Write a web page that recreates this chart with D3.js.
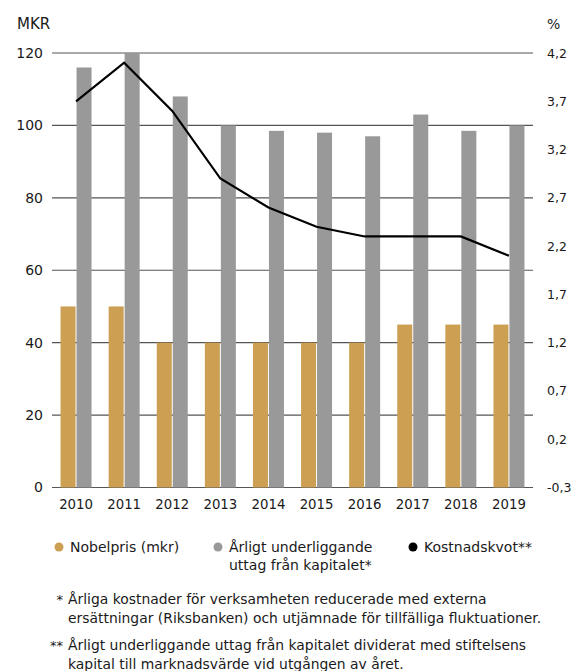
<!DOCTYPE html>
<html>
<head>
<meta charset="utf-8">
<script src="https://cdn.jsdelivr.net/npm/d3@7"></script>
<style>
  body { margin: 0; background: #fff; }
  svg text { font-family: "DejaVu Sans", sans-serif; fill: #1a1a1a; }
</style>
</head>
<body>
<script>
const years = ["2010", "2011", "2012", "2013", "2014", "2015", "2016", "2017", "2018", "2019"];
const nobelpris = [50, 50, 40, 40, 40, 40, 40, 45, 45, 45];
const uttag = [116, 120, 108, 100, 98.5, 98, 97, 103, 98.5, 100];
const kostnadskvot = [3.7, 4.1, 3.6, 2.9, 2.6, 2.4, 2.3, 2.3, 2.3, 2.1];
const leftTicks = [0, 20, 40, 60, 80, 100, 120];
const rightTicks = [-0.3, 0.2, 0.7, 1.2, 1.7, 2.2, 2.7, 3.2, 3.7, 4.2];

const W = 581;
const H = 671;
const Lpad = 52;
const Rpad = 48;
const Tpad = 53;
const plotBottom = 487.5;

const gold = "#cc9f52";
const grey = "#999999";

const svg = d3.select("body")
  .append("svg")
  .attr("width", W)
  .attr("height", H);

const xScale = d3.scaleBand()
  .domain(years)
  .range([Lpad, W - Rpad]);

const yLeft = d3.scaleLinear()
  .domain([0, 120])
  .range([plotBottom, Tpad]);

const yRight = d3.scaleLinear()
  .domain([-0.3, 4.2])
  .range([plotBottom, Tpad]);

// gridlines
svg.append("g")
  .selectAll("line")
  .data(leftTicks)
  .enter()
  .append("line")
  .attr("x1", Lpad)
  .attr("x2", W - Rpad)
  .attr("y1", d => yLeft(d))
  .attr("y2", d => yLeft(d))
  .attr("stroke", "#555")
  .attr("stroke-width", 1.2);

// left axis
const leftAxis = d3.axisLeft(yLeft).tickValues(leftTicks).tickSize(0).tickPadding(9);
svg.append("g")
  .attr("transform", `translate(${Lpad},0)`)
  .call(leftAxis)
  .call(g => g.select(".domain").remove())
  .selectAll("text")
  .style("font-size", "14px");

// right axis
const rightAxis = d3.axisRight(yRight)
  .tickValues(rightTicks)
  .tickSize(0)
  .tickPadding(14)
  .tickFormat(d => d3.format(".1f")(d).replace(".", ",").replace("−", "-"));
svg.append("g")
  .attr("transform", `translate(${W - Rpad},0)`)
  .call(rightAxis)
  .call(g => g.select(".domain").remove())
  .selectAll("text")
  .style("font-size", "12.5px");

// x axis
const xAxis = d3.axisBottom(xScale).tickSize(0).tickPadding(12);
svg.append("g")
  .attr("transform", `translate(0,${plotBottom})`)
  .call(xAxis)
  .call(g => g.select(".domain").remove())
  .selectAll("text")
  .style("font-size", "13.3px");

const barW = 15;

svg.append("g")
  .selectAll("rect")
  .data(years)
  .enter()
  .append("rect")
  .attr("x", (d) => xScale(d) + xScale.bandwidth() / 2 - barW - 0.5)
  .attr("y", (d, i) => yLeft(nobelpris[i]))
  .attr("width", barW)
  .attr("height", (d, i) => yLeft(0) - yLeft(nobelpris[i]))
  .attr("fill", gold);

svg.append("g")
  .selectAll("rect")
  .data(years)
  .enter()
  .append("rect")
  .attr("x", (d) => xScale(d) + xScale.bandwidth() / 2 + 0.5)
  .attr("y", (d, i) => yLeft(uttag[i]))
  .attr("width", barW)
  .attr("height", (d, i) => yLeft(0) - yLeft(uttag[i]))
  .attr("fill", grey);

const line = d3.line()
  .x((d, i) => xScale(years[i]) + xScale.bandwidth() / 2)
  .y(d => yRight(d));

svg.append("path")
  .datum(kostnadskvot)
  .attr("d", line)
  .attr("fill", "none")
  .attr("stroke", "#000")
  .attr("stroke-width", 2.2);

// axis titles
svg.append("text")
  .text("MKR")
  .attr("x", 17)
  .attr("y", 29)
  .style("font-size", "15px");

svg.append("text")
  .text("%")
  .attr("x", 547)
  .attr("y", 29)
  .style("font-size", "14px");

// legend
const legend = svg.append("g");
const legendItems = [
  { x: 59, color: gold, lines: ["Nobelpris (mkr)"] },
  { x: 218, color: grey, lines: ["Årligt underliggande", "uttag från kapitalet*"] },
  { x: 413, color: "#000", lines: ["Kostnadskvot**"] }
];
legendItems.forEach(item => {
  legend.append("circle")
    .attr("cx", item.x)
    .attr("cy", 547)
    .attr("r", 4.5)
    .attr("fill", item.color);
  item.lines.forEach((t, j) => {
    legend.append("text")
      .text(t)
      .attr("x", item.x + 11)
      .attr("y", 552 + j * 18)
      .style("font-size", "14px");
  });
});

// footnotes
const notes = [
  { mark: "*", y: 604, lines: ["Årliga kostnader för verksamheten reducerade med externa", "ersättningar (Riksbanken) och utjämnade för tillfälliga fluktuationer."] },
  { mark: "**", y: 650, lines: ["Årligt underliggande uttag från kapitalet dividerat med stiftelsens", "kapital till marknadsvärde vid utgången av året."] }
];
notes.forEach(n => {
  svg.append("text")
    .text(n.mark)
    .attr("x", 63)
    .attr("y", n.y)
    .attr("text-anchor", "end")
    .style("font-size", "13px");
  n.lines.forEach((t, j) => {
    svg.append("text")
      .text(t)
      .attr("x", 68)
      .attr("y", n.y + j * 18.5)
      .style("font-size", "13.9px");
  });
});
</script>
</body>
</html>
